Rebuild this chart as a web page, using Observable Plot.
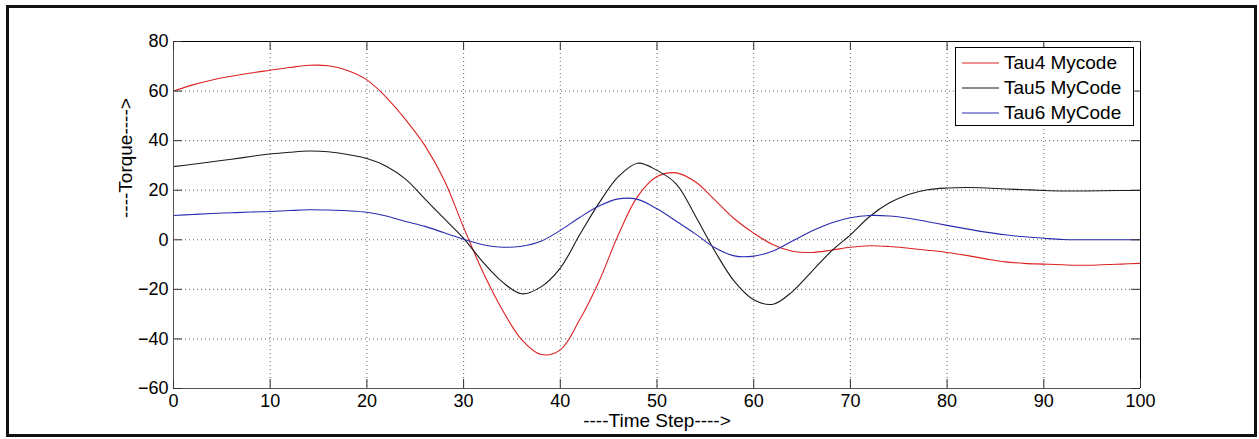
<!DOCTYPE html>
<html>
<head>
<meta charset="utf-8">
<script src="https://cdn.jsdelivr.net/npm/d3@7"></script>
<script src="https://cdn.jsdelivr.net/npm/@observablehq/plot@0.6"></script>
<style>
  html, body { margin: 0; padding: 0; background: #fff; }
  #wrap { position: relative; width: 1259px; height: 439px; overflow: hidden; font-family: "Liberation Sans", Arial, sans-serif; }
  #outer { position: absolute; left: 6px; top: 5px; width: 1245px; height: 426px; border: 3.5px solid #111; pointer-events: none; }
  #legend { position: absolute; left: 955px; top: 47px; width: 177px; height: 77px; border: 1px solid #000; background: #fff; }
  .row { position: absolute; left: 0; height: 25px; display: flex; align-items: center; font-size: 19px; color: #000; }
  .row svg { margin-left: 6px; margin-right: 5px; }
</style>
</head>
<body>
<div id="wrap">
  <div id="chart"></div>
  <div id="legend"></div>
  <div id="outer"></div>
</div>
<script>
// ---- data ----
const timeStep = [0,2,4,6,8,10,12,14,16,18,20,22,24,26,28,30,32,34,36,38,40,42,44,46,48,50,52,54,56,58,60,62,64,66,68,70,72,74,76,78,80,82,84,86,88,90,92,94,96,98,100];

const tau4 = [60,62.5,64.5,66,67.3,68.4,69.5,70.4,70.2,68.3,64.5,57.5,48.5,38,24,5,-13,-28.2,-40.3,-46.3,-44.4,-32.3,-16.8,2,17.5,25.5,27,23.3,16,8.5,2.7,-2,-4.6,-5.1,-4.2,-3,-2.4,-2.7,-3.4,-4.2,-5.1,-6.3,-7.7,-8.9,-9.5,-9.8,-10.1,-10.3,-10.1,-9.8,-9.5];

const tau5 = [29.5,30.5,31.5,32.5,33.6,34.6,35.3,35.8,35.5,34.4,32.8,29.7,24.5,16.5,8.5,0.6,-9,-17,-21.8,-19,-11.4,2,14.8,25.5,30.9,28,22.5,9.4,-4.7,-16.8,-24.2,-26,-20.9,-12.8,-4.7,2,9.4,14.8,18.3,20.2,20.9,21.1,20.9,20.5,20.2,19.9,19.7,19.7,19.8,19.9,19.9];

const tau6 = [9.8,10.2,10.6,10.9,11.2,11.4,11.8,12.1,12,11.7,11.1,9.6,7.4,5.4,2.8,0.2,-2,-3,-2.6,-0.6,3.8,9,13.6,16.5,16.3,12.5,7.5,2.3,-3.2,-6.5,-6.6,-4.5,-0.5,3.5,6.8,8.9,9.8,9.6,8.7,7.3,5.8,4.4,3.1,2,1.2,0.6,0.1,0,0,0,0];

const seriesNames = ["Tau4 Mycode", "Tau5 MyCode", "Tau6 MyCode"];
const seriesColors = ["#dd2222", "#1a1a1a", "#2b2bb0"];
const xTicks = [0,10,20,30,40,50,60,70,80,90,100];
const yTicks = [-60,-40,-20,0,20,40,60,80];
const xTitle = "----Time Step---->";
const yTitle = "----Torque---->";

// ---- build ----
const series = [tau4, tau5, tau6];
const rows = series.map((vals, i) => timeStep.map((t, j) => ({t, v: vals[j], s: seriesNames[i]})));

const W = 1259, H = 439;
const mL = 173, mR = 119, mT = 41, mB = 51;
const fw = W - mL - mR, fh = H - mT - mB;
const tl = 9;

const grid = {stroke: "#666", strokeOpacity: 1, strokeWidth: 1, strokeDasharray: "1,3"};

const chart = Plot.plot({
  width: W, height: H,
  marginLeft: mL, marginRight: mR, marginTop: mT, marginBottom: mB,
  style: {fontFamily: "'Liberation Sans', Arial, sans-serif", fontSize: "18px", color: "#000", background: "transparent"},
  x: {domain: [xTicks[0], xTicks[xTicks.length-1]]},
  y: {domain: [yTicks[0], yTicks[yTicks.length-1]]},
  marks: [
    Plot.gridX(xTicks, grid),
    Plot.gridY(yTicks, grid),
    ...rows.map((r, i) => Plot.line(r, {x: "t", y: "v", stroke: seriesColors[i], strokeWidth: 1.1, curve: "catmull-rom"})),
    Plot.ruleX([xTicks[xTicks.length-1]], {stroke: "#000"}),
    Plot.ruleY([yTicks[yTicks.length-1]], {stroke: "#000"}),
    Plot.ruleX([xTicks[0]], {stroke: "#555"}),
    Plot.ruleY([yTicks[0]], {stroke: "#555"}),
    Plot.tickX(xTicks, {x: d => d, insetTop: fh - tl, stroke: "#333"}),
    Plot.tickX(xTicks, {x: d => d, insetBottom: fh - tl, stroke: "#333"}),
    Plot.tickY(yTicks, {y: d => d, insetRight: fw - tl, stroke: "#333"}),
    Plot.tickY(yTicks, {y: d => d, insetLeft: fw - tl, stroke: "#333"}),
    Plot.axisX(xTicks, {tickSize: 0, tickPadding: 6, label: null, fontSize: 18}),
    Plot.axisY(yTicks, {tickSize: 0, tickPadding: 5, label: null, fontSize: 18}),
    Plot.text([xTitle], {text: d => d, frameAnchor: "bottom", dy: 38, fontSize: 19}),
    Plot.text([yTitle], {text: d => d, frameAnchor: "left", rotate: -90, dx: -48, dy: 3, fontSize: 19})
  ]
});
document.getElementById("chart").appendChild(chart);

// legend
const leg = document.getElementById("legend");
seriesNames.forEach((name, i) => {
  const row = document.createElement("div");
  row.className = "row";
  row.style.top = (2 + i * 25) + "px";
  row.innerHTML = `<svg width="37" height="4"><line x1="0" x2="37" y1="2" y2="2" stroke="${seriesColors[i]}" stroke-width="1.1"/></svg><span>${name}</span>`;
  leg.appendChild(row);
});
</script>
</body>
</html>
